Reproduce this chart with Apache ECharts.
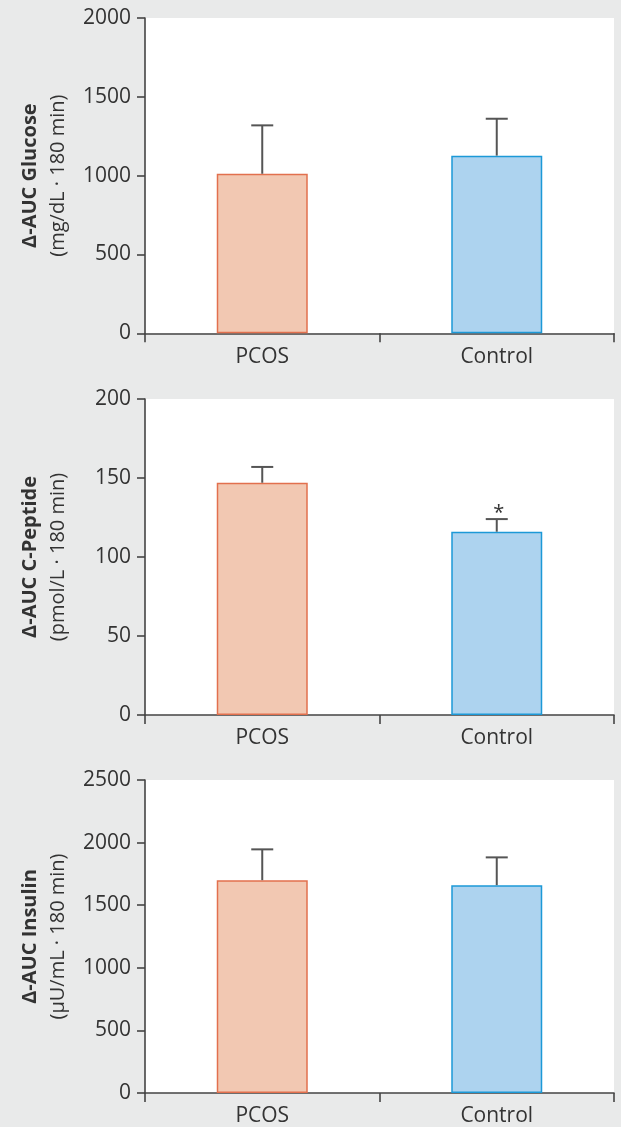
<!DOCTYPE html>
<html>
<head>
<meta charset="utf-8">
<script src="https://cdn.jsdelivr.net/npm/echarts@6/dist/echarts.min.js"></script>
<style>
html,body{margin:0;padding:0;background:#e9eaea;}
#c{width:621px;height:1127px;}
</style>
</head>
<body>
<div id="c"></div>
<script>
// ---- data ----
const categories = ['PCOS', 'Control'];

const glucoseMean = [1012, 1127];
const glucoseErr  = [307, 234];

const cpeptideMean = [147, 116];
const cpeptideErr  = [10, 8];
const cpeptideSig  = ['', '*'];

const insulinMean = [1700, 1660];
const insulinErr  = [246, 222];

const glucoseTicks  = {min: 0, max: 2000, interval: 500};
const cpeptideTicks = {min: 0, max: 200, interval: 50};
const insulinTicks  = {min: 0, max: 2500, interval: 500};

const panelNames = [
  ['Δ-AUC Glucose', '(mg/dL · 180 min)'],
  ['Δ-AUC C-Peptide', '(pmol/L · 180 min)'],
  ['Δ-AUC Insulin', '(µU/mL · 180 min)']
];

// ---- styles ----
const FONT = '"Open Sans", "DejaVu Sans", sans-serif';
const AXIS_COLOR = '#444';
const TEXT_COLOR = '#333';
const fills   = ['#f2c8b2', '#add3ef'];
const borders = ['#e2704e', '#1c99d7'];

const panels = [
  {mean: glucoseMean, err: glucoseErr, sig: ['', ''], ticks: glucoseTicks, top: 18, height: 315.3},
  {mean: cpeptideMean, err: cpeptideErr, sig: cpeptideSig, ticks: cpeptideTicks, top: 399, height: 316},
  {mean: insulinMean, err: insulinErr, sig: ['', ''], ticks: insulinTicks, top: 780, height: 315.7}
];

const grid = [], xAxis = [], yAxis = [], series = [];

panels.forEach((p, k) => {
  grid.push({left: 145, right: 7, top: p.top, height: p.height, show: true,
             backgroundColor: '#ffffff', borderWidth: 0, containLabel: false});
  xAxis.push({
    type: 'category', gridIndex: k, data: categories, boundaryGap: true,
    axisLine: {show: true, lineStyle: {color: AXIS_COLOR, width: 1.6}},
    axisTick: {show: true, length: 9, lineStyle: {color: AXIS_COLOR, width: 1.6}, alignWithLabel: false},
    axisLabel: {color: TEXT_COLOR, fontFamily: FONT, fontSize: 21, margin: 13},
    splitLine: {show: false}
  });
  yAxis.push({
    type: 'value', gridIndex: k, min: p.ticks.min, max: p.ticks.max, interval: p.ticks.interval,
    axisLine: {show: true, onZero: false, lineStyle: {color: AXIS_COLOR, width: 1.6}},
    axisTick: {show: true, length: 8, lineStyle: {color: AXIS_COLOR, width: 1.6}},
    axisLabel: {color: TEXT_COLOR, fontFamily: FONT, fontSize: 21, margin: 14,
                formatter: function (v) { return String(v); }},
    splitLine: {show: false},
    name: '{b|' + panelNames[k][0] + '}\n{n|' + panelNames[k][1] + '}',
    nameLocation: 'middle', nameRotate: 90, nameGap: 73,
    nameTextStyle: {
      color: TEXT_COLOR, fontFamily: FONT, fontSize: 20, align: 'center', lineHeight: 28,
      rich: {
        b: {fontWeight: 'bold', fontSize: 20, fontFamily: FONT, color: TEXT_COLOR, lineHeight: 28},
        n: {fontWeight: 'normal', fontSize: 20, fontFamily: FONT, color: TEXT_COLOR, lineHeight: 28}
      }
    }
  });
  series.push({
    type: 'bar', xAxisIndex: k, yAxisIndex: k, barWidth: 91,
    data: p.mean.map((v, i) => ({value: v, itemStyle: {color: fills[i], borderColor: borders[i], borderWidth: 1.5}})),
    z: 2
  });
  series.push({
    type: 'custom', xAxisIndex: k, yAxisIndex: k, z: 3,
    data: p.mean.map((v, i) => [i, v, v + p.err[i], p.sig[i]]),
    renderItem: function (params, api) {
      const base = api.coord([api.value(0), api.value(1)]);
      const top = api.coord([api.value(0), api.value(2)]);
      const half = 11;
      const style = {stroke: '#555', lineWidth: 2};
      const children = [
        {type: 'line', shape: {x1: base[0], y1: base[1], x2: top[0], y2: top[1]}, style: style},
        {type: 'line', shape: {x1: top[0] - half, y1: top[1], x2: top[0] + half, y2: top[1]}, style: style}
      ];
      const s = p.sig[params.dataIndex];
      if (s) {
        children.push({type: 'text', x: top[0] + 2, y: top[1] + 4,
          style: {text: s, fill: TEXT_COLOR, font: '20px ' + FONT, align: 'center', verticalAlign: 'bottom'}});
      }
      return {type: 'group', children: children};
    }
  });
});

const chart = echarts.init(document.getElementById('c'), null, {renderer: 'canvas'});
chart.setOption({
  backgroundColor: '#e9eaea',
  animation: false,
  grid: grid, xAxis: xAxis, yAxis: yAxis, series: series
});
</script>
</body>
</html>
